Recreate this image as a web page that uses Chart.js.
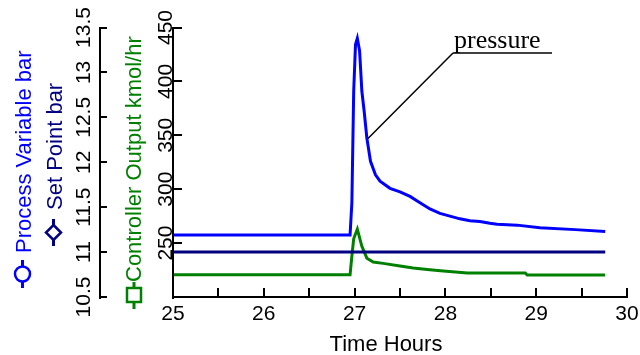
<!DOCTYPE html>
<html>
<head>
<meta charset="utf-8">
<script src="https://cdn.jsdelivr.net/npm/chart.js@4/dist/chart.umd.min.js"></script>
<style>
html,body{margin:0;padding:0;background:#fff;}
#wrap{width:640px;height:355px;position:relative;}
</style>
</head>
<body>
<div id="wrap"><canvas id="c" width="640" height="355"></canvas></div>
<script>
// ---- data ----
const pvTime = [25.00, 26.95, 26.97, 26.99, 27.01, 27.03, 27.055, 27.08, 27.105, 27.135, 27.175, 27.23, 27.28, 27.39, 27.50, 27.61, 27.72, 27.83, 27.94, 28.05, 28.16, 28.27, 28.38, 28.49, 28.57, 28.79, 29.04, 29.43, 29.76];
const pvBar  = [11.19, 11.19, 11.55, 12.79, 13.31, 13.38, 13.24, 12.79, 12.57, 12.27, 12.01, 11.86, 11.79, 11.71, 11.67, 11.62, 11.55, 11.48, 11.43, 11.40, 11.37, 11.35, 11.34, 11.32, 11.31, 11.30, 11.27, 11.25, 11.23];
const spTime = [25.00, 29.76];
const spBar  = [11.0, 11.0];
const coTime = [25.00, 26.95, 26.97, 26.99, 27.03, 27.08, 27.135, 27.205, 27.315, 27.50, 27.645, 27.80, 27.945, 28.24, 28.88, 28.90, 29.76];
const coKmolHr = [220.6, 220.6, 238.0, 254.0, 263.0, 247.0, 236.0, 232.5, 231.2, 228.7, 227.0, 225.6, 224.4, 222.3, 222.3, 220.5, 220.5];
const barTicks = ['10.5', '11', '11.5', '12', '12.5', '13', '13.5'];
const flowTicks = ['250', '300', '350', '400', '450'];
const seriesNames = ['Process Variable bar', 'Set Point bar', 'Controller Output kmol/hr'];
const xTitle = 'Time Hours';
const annotationText = 'pressure';

const SANS = '"Liberation Sans", Arial, sans-serif';
const SERIF = '"Liberation Serif", "Times New Roman", serif';
const BLUE = '#0000ff', NAVY = '#000080', GREEN = '#008000';
const AXIS = '#000000';

function pts(xs, ys) { return xs.map((x, i) => ({x: x, y: ys[i]})); }

const textPlugin = {
  id: 'texts',
  afterDraw(chart) {
    const ctx = chart.ctx;
    const xs = chart.scales.x, yb = chart.scales.y, yf = chart.scales.y2;
    ctx.save();
    ctx.fillStyle = AXIS;
    // outer (bar) axis line and inward ticks
    const xb = Math.round(yb.right);
    ctx.fillRect(xb - 1, Math.round(yb.top) - 1, 2, Math.round(yb.bottom - yb.top) + 2);
    yb.ticks.forEach(t => { const p = Math.round(yb.getPixelForValue(t.value)); ctx.fillRect(xb - 1, p - 1, 8, 2); });
    // inner (kmol/hr) axis line and inward ticks
    const xf = Math.round(yf.right);
    ctx.fillRect(xf - 1, Math.round(yf.top) - 1, 2, Math.round(yf.bottom - yf.top) + 2);
    yf.ticks.forEach(t => { const p = Math.round(yf.getPixelForValue(t.value)); ctx.fillRect(xf - 1, p - 1, 10, 2); });
    // time axis ticks
    const yx = Math.round(xs.top);
    xs.ticks.forEach(t => { const p = Math.round(xs.getPixelForValue(t.value)); ctx.fillRect(p - 1, yx - 9, 2, 10); });

    ctx.fillStyle = '#000';
    ctx.font = '21px ' + SANS;
    ctx.textAlign = 'center';
    ctx.textBaseline = 'alphabetic';
    function rotText(txt, x, y, align) {
      ctx.save();
      ctx.translate(x, y);
      ctx.rotate(-Math.PI / 2);
      ctx.textAlign = align || 'center';
      ctx.fillText(txt, 0, 0);
      ctx.restore();
    }
    barTicks.forEach(t => rotText(t, yb.right - 10, yb.getPixelForValue(parseFloat(t))));
    flowTicks.forEach(t => rotText(t, yf.right - 1.5, yf.getPixelForValue(parseFloat(t))));
    ctx.font = '22px ' + SANS;
    ctx.fillText(xTitle, 386, 351);
    ctx.fillStyle = BLUE; rotText(seriesNames[0], 30.5, 253, 'left');
    ctx.fillStyle = NAVY; rotText(seriesNames[1], 62, 210, 'left');
    ctx.fillStyle = GREEN; rotText(seriesNames[2], 140.5, 282, 'left');
    // legend symbols
    ctx.lineWidth = 3;
    ctx.strokeStyle = BLUE;
    ctx.beginPath(); ctx.moveTo(22.5, 260); ctx.lineTo(22.5, 266); ctx.moveTo(22.5, 282); ctx.lineTo(22.5, 288); ctx.stroke();
    ctx.lineWidth = 2.5;
    ctx.beginPath(); ctx.arc(22.5, 274, 7.5, 0, Math.PI * 2); ctx.stroke();
    ctx.strokeStyle = NAVY; ctx.lineWidth = 3;
    ctx.beginPath(); ctx.moveTo(53.5, 219); ctx.lineTo(53.5, 225); ctx.moveTo(53.5, 240); ctx.lineTo(53.5, 246); ctx.stroke();
    ctx.lineWidth = 2.5;
    ctx.beginPath(); ctx.moveTo(53.5, 225); ctx.lineTo(61, 232.5); ctx.lineTo(53.5, 240); ctx.lineTo(46, 232.5); ctx.closePath(); ctx.stroke();
    ctx.strokeStyle = GREEN; ctx.lineWidth = 3;
    ctx.beginPath(); ctx.moveTo(134, 282); ctx.lineTo(134, 288); ctx.moveTo(134, 302); ctx.lineTo(134, 309); ctx.stroke();
    ctx.lineWidth = 2.5;
    ctx.strokeRect(127, 288, 14, 14);
    // annotation
    ctx.fillStyle = '#000'; ctx.strokeStyle = '#000';
    ctx.font = '26px ' + SERIF;
    ctx.textAlign = 'left';
    ctx.fillText(annotationText, 454, 47.5);
    ctx.lineWidth = 1.5;
    ctx.beginPath(); ctx.moveTo(453, 53); ctx.lineTo(552, 53); ctx.stroke();
    ctx.beginPath(); ctx.moveTo(453, 53); ctx.lineTo(368, 138.5); ctx.stroke();
    ctx.restore();
  }
};

new Chart(document.getElementById('c'), {
  type: 'line',
  data: {
    datasets: [
      {label: seriesNames[0], data: pts(pvTime, pvBar), yAxisID: 'y', borderColor: BLUE, borderWidth: 3, pointRadius: 0, tension: 0},
      {label: seriesNames[1], data: pts(spTime, spBar), yAxisID: 'y', borderColor: NAVY, borderWidth: 3, pointRadius: 0, tension: 0},
      {label: seriesNames[2], data: pts(coTime, coKmolHr), yAxisID: 'y2', borderColor: GREEN, borderWidth: 3, pointRadius: 0, tension: 0}
    ]
  },
  options: {
    responsive: false,
    animation: false,
    events: [],
    layout: {padding: {left: 0, right: 13, top: 27.5, bottom: 0}},
    plugins: {legend: {display: false}, tooltip: {enabled: false}, title: {display: false}},
    scales: {
      x: {
        type: 'linear', position: 'bottom', min: 25, max: 30,
        afterFit(s) { s.height = 58; s.paddingLeft = 0; s.paddingRight = 0; },
        border: {display: true, color: '#000', width: 2},
        grid: {display: false, drawTicks: false},
        ticks: {stepSize: 0.5, autoSkip: false, maxRotation: 0, minRotation: 0, padding: 5, color: '#000',
          font: {family: SANS, size: 21},
          callback: v => Number.isInteger(v) ? String(v) : ''}
      },
      y: {
        type: 'linear', position: 'left', weight: 10, min: 10.5, max: 13.5,
        afterFit(s) { s.width = 100; s.paddingTop = 0; s.paddingBottom = 0; },
        border: {display: true, color: '#000', width: 2},
        grid: {display: false, drawTicks: false},
        ticks: {stepSize: 0.5, display: false}
      },
      y2: {
        type: 'linear', position: 'left', weight: 0, min: 200, max: 450,
        afterFit(s) { s.width = 73; s.paddingTop = 0; s.paddingBottom = 0; },
        border: {display: true, color: '#000', width: 2},
        grid: {display: false, drawTicks: false},
        ticks: {stepSize: 50, display: false}
      }
    }
  },
  plugins: [textPlugin]
});
</script>
</body>
</html>
